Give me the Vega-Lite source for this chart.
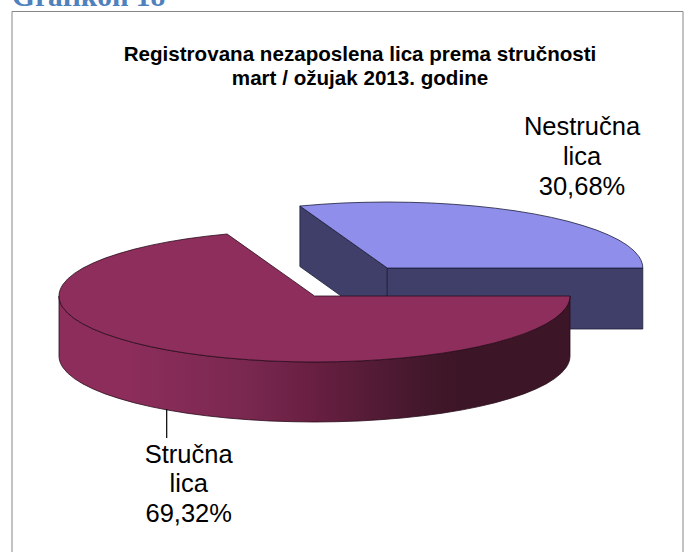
{
  "$schema": "https://vega.github.io/schema/vega-lite/v6.json",
  "width": 688,
  "height": 552,
  "padding": 0,
  "autosize": {"type": "none"},
  "background": "white",
  "config": {"view": {"stroke": null}},
  "datasets": {
    "frame": [{"x": 12, "x2": 683, "y": 11.5, "y2": 560}],
    "blueSideLeft": [
      {"x": 299.9, "y": 206, "y2": 266.5},
      {"x": 387.3, "y": 268, "y2": 329}
    ],
    "blueSideFront": [
      {"x": 387.3, "y": 268, "y2": 329},
      {"x": 642.8, "y": 268, "y2": 329}
    ],
    "blueTop": [
      {"x": 299.9, "y": 206, "y2": 206},
      {"x": 321.2, "y": 204.3, "y2": 221.1},
      {"x": 342.9, "y": 203, "y2": 236.5},
      {"x": 365, "y": 202.3, "y2": 252.2},
      {"x": 387.3, "y": 202, "y2": 268},
      {"x": 409.6, "y": 202.3, "y2": 268},
      {"x": 431.7, "y": 203, "y2": 268},
      {"x": 453.4, "y": 204.3, "y2": 268},
      {"x": 474.7, "y": 206, "y2": 268},
      {"x": 495.3, "y": 208.2, "y2": 268},
      {"x": 515.05, "y": 210.8, "y2": 268},
      {"x": 533.9, "y": 213.9, "y2": 268},
      {"x": 551.5, "y": 217.4, "y2": 268},
      {"x": 568, "y": 221.3, "y2": 268},
      {"x": 583, "y": 225.6, "y2": 268},
      {"x": 596.6, "y": 230.1, "y2": 268},
      {"x": 608.6, "y": 235, "y2": 268},
      {"x": 618.9, "y": 240.1, "y2": 268},
      {"x": 627.4, "y": 245.4, "y2": 268},
      {"x": 634.1, "y": 250.9, "y2": 268},
      {"x": 638.9, "y": 256.5, "y2": 268},
      {"x": 640.6, "y": 259.4, "y2": 268},
      {"x": 641.8, "y": 262.2, "y2": 268},
      {"x": 642.56, "y": 265.1, "y2": 268},
      {"x": 642.8, "y": 268, "y2": 268}
    ],
    "maroonSide": [
      {"x": 59, "y": 296, "y2": 356},
      {"x": 59.24, "y": 298.88, "y2": 358.88},
      {"x": 60, "y": 301.8, "y2": 361.8},
      {"x": 61.2, "y": 304.6, "y2": 364.6},
      {"x": 62.9, "y": 307.5, "y2": 367.5},
      {"x": 67.7, "y": 313.1, "y2": 373.1},
      {"x": 74.4, "y": 318.6, "y2": 378.6},
      {"x": 82.9, "y": 323.9, "y2": 383.9},
      {"x": 93.2, "y": 329, "y2": 389},
      {"x": 105.2, "y": 333.9, "y2": 393.9},
      {"x": 118.8, "y": 338.4, "y2": 398.4},
      {"x": 133.8, "y": 342.7, "y2": 402.7},
      {"x": 150.3, "y": 346.6, "y2": 406.6},
      {"x": 167.9, "y": 350.1, "y2": 410.1},
      {"x": 186.75, "y": 353.2, "y2": 413.2},
      {"x": 206.5, "y": 355.8, "y2": 415.8},
      {"x": 227.1, "y": 358, "y2": 418},
      {"x": 248.4, "y": 359.7, "y2": 419.7},
      {"x": 270.1, "y": 361, "y2": 421},
      {"x": 292.3, "y": 361.7, "y2": 421.7},
      {"x": 314.5, "y": 362, "y2": 422},
      {"x": 336.7, "y": 361.7, "y2": 421.7},
      {"x": 358.9, "y": 361, "y2": 421},
      {"x": 380.6, "y": 359.7, "y2": 419.7},
      {"x": 401.9, "y": 358, "y2": 418},
      {"x": 422.5, "y": 355.8, "y2": 415.8},
      {"x": 442.25, "y": 353.2, "y2": 413.2},
      {"x": 461.1, "y": 350.1, "y2": 410.1},
      {"x": 478.7, "y": 346.6, "y2": 406.6},
      {"x": 495.2, "y": 342.7, "y2": 402.7},
      {"x": 510.2, "y": 338.4, "y2": 398.4},
      {"x": 523.8, "y": 333.9, "y2": 393.9},
      {"x": 535.8, "y": 329, "y2": 389},
      {"x": 546.1, "y": 323.9, "y2": 383.9},
      {"x": 554.6, "y": 318.6, "y2": 378.6},
      {"x": 561.3, "y": 313.1, "y2": 373.1},
      {"x": 566.1, "y": 307.5, "y2": 367.5},
      {"x": 567.8, "y": 304.6, "y2": 364.6},
      {"x": 569, "y": 301.8, "y2": 361.8},
      {"x": 569.76, "y": 298.88, "y2": 358.88},
      {"x": 570, "y": 296, "y2": 356}
    ],
    "maroonTop": [
      {"x": 59, "y": 296, "y2": 296},
      {"x": 59.24, "y": 293.12, "y2": 298.88},
      {"x": 60, "y": 290.2, "y2": 301.8},
      {"x": 61.2, "y": 287.4, "y2": 304.6},
      {"x": 62.9, "y": 284.5, "y2": 307.5},
      {"x": 67.7, "y": 278.9, "y2": 313.1},
      {"x": 74.4, "y": 273.4, "y2": 318.6},
      {"x": 82.9, "y": 268.1, "y2": 323.9},
      {"x": 93.2, "y": 263, "y2": 329},
      {"x": 105.2, "y": 258.1, "y2": 333.9},
      {"x": 118.8, "y": 253.6, "y2": 338.4},
      {"x": 133.8, "y": 249.3, "y2": 342.7},
      {"x": 150.3, "y": 245.4, "y2": 346.6},
      {"x": 167.9, "y": 241.9, "y2": 350.1},
      {"x": 186.75, "y": 238.8, "y2": 353.2},
      {"x": 206.5, "y": 236.2, "y2": 355.8},
      {"x": 227.1, "y": 234, "y2": 358},
      {"x": 248.4, "y": 249.1, "y2": 359.7},
      {"x": 270.1, "y": 264.5, "y2": 361},
      {"x": 292.3, "y": 280.2, "y2": 361.7},
      {"x": 314.5, "y": 296, "y2": 362},
      {"x": 336.7, "y": 296, "y2": 361.7},
      {"x": 358.9, "y": 296, "y2": 361},
      {"x": 380.6, "y": 296, "y2": 359.7},
      {"x": 401.9, "y": 296, "y2": 358},
      {"x": 422.5, "y": 296, "y2": 355.8},
      {"x": 442.25, "y": 296, "y2": 353.2},
      {"x": 461.1, "y": 296, "y2": 350.1},
      {"x": 478.7, "y": 296, "y2": 346.6},
      {"x": 495.2, "y": 296, "y2": 342.7},
      {"x": 510.2, "y": 296, "y2": 338.4},
      {"x": 523.8, "y": 296, "y2": 333.9},
      {"x": 535.8, "y": 296, "y2": 329},
      {"x": 546.1, "y": 296, "y2": 323.9},
      {"x": 554.6, "y": 296, "y2": 318.6},
      {"x": 561.3, "y": 296, "y2": 313.1},
      {"x": 566.1, "y": 296, "y2": 307.5},
      {"x": 567.8, "y": 296, "y2": 304.6},
      {"x": 569, "y": 296, "y2": 301.8},
      {"x": 569.76, "y": 296, "y2": 298.88},
      {"x": 570, "y": 296, "y2": 296}
    ],
    "leader": [{"x": 166.7, "y": 409, "y2": 438}],
    "sliceLabels": [
      {"slice": "Nestručna lica", "share": 30.68, "label": "Nestručna\nlica\n30,68%", "x": 582, "y": 135},
      {"slice": "Stručna lica", "share": 69.32, "label": "Stručna\nlica\n69,32%", "x": 188.7, "y": 462.7}
    ],
    "titles": [
      {"label": "Registrovana nezaposlena lica prema stručnosti", "x": 360, "y": 61},
      {"label": "mart / ožujak  2013. godine", "x": 360, "y": 85}
    ],
    "heading": [{"label": "Grafikon 18", "x": 12, "y": 6}]
  },
  "encoding": {
    "x": {"field": "x", "type": "quantitative", "axis": null, "scale": {"domain": [0, 688], "nice": false, "zero": false}},
    "y": {"field": "y", "type": "quantitative", "axis": null, "scale": {"domain": [552, 0], "nice": false, "zero": false}}
  },
  "layer": [
    {
      "data": {"name": "heading"},
      "mark": {"type": "text", "align": "left", "baseline": "alphabetic", "font": "Liberation Serif", "fontWeight": "bold", "fontSize": 29.5, "fill": "#4F81BD"},
      "encoding": {"text": {"field": "label"}}
    },
    {
      "data": {"name": "frame"},
      "mark": {"type": "rect", "fill": "white", "stroke": "#868686", "strokeWidth": 1},
      "encoding": {
        "x2": {"field": "x2"},
        "y2": {"field": "y2"}
      }
    },
    {
      "data": {"name": "blueSideLeft"},
      "mark": {"type": "area", "fill": "#3F3F69", "fillOpacity": 1, "stroke": "#1d1d3a", "strokeWidth": 0.8},
      "encoding": {"y2": {"field": "y2"}}
    },
    {
      "data": {"name": "blueSideFront"},
      "mark": {"type": "area", "fill": "#3F3F69", "fillOpacity": 1, "stroke": "#1d1d3a", "strokeWidth": 0.8},
      "encoding": {"y2": {"field": "y2"}}
    },
    {
      "data": {"name": "blueTop"},
      "mark": {"type": "area", "fill": "#8F8FEB", "fillOpacity": 1, "stroke": "#1d1d3a", "strokeWidth": 0.8},
      "encoding": {"y2": {"field": "y2"}}
    },
    {
      "data": {"name": "maroonSide"},
      "mark": {
        "type": "area",
        "fillOpacity": 1,
        "stroke": "#2a0d1c",
        "strokeWidth": 0.8,
        "fill": {
          "gradient": "linear",
          "x1": 0, "x2": 1, "y1": 0, "y2": 0,
          "stops": [
            {"offset": 0, "color": "#8C2D5B"},
            {"offset": 0.14, "color": "#8C2D5B"},
            {"offset": 0.36, "color": "#7A2850"},
            {"offset": 0.5, "color": "#681F41"},
            {"offset": 0.7, "color": "#45182D"},
            {"offset": 0.78, "color": "#3C1526"},
            {"offset": 1, "color": "#3C1526"}
          ]
        }
      },
      "encoding": {"y2": {"field": "y2"}}
    },
    {
      "data": {"name": "maroonTop"},
      "mark": {"type": "area", "fill": "#8E2E5C", "fillOpacity": 1, "stroke": "#2a0d1c", "strokeWidth": 0.8},
      "encoding": {"y2": {"field": "y2"}}
    },
    {
      "data": {"name": "leader"},
      "mark": {"type": "rule", "stroke": "#000000", "strokeWidth": 1.2},
      "encoding": {"y2": {"field": "y2"}}
    },
    {
      "data": {"name": "sliceLabels"},
      "mark": {"type": "text", "align": "center", "baseline": "alphabetic", "font": "Liberation Sans", "fontSize": 25.5, "lineBreak": "\n", "lineHeight": 29.8, "fill": "#000000"},
      "encoding": {"text": {"field": "label"}}
    },
    {
      "data": {"name": "titles"},
      "mark": {"type": "text", "align": "center", "baseline": "alphabetic", "font": "Liberation Sans", "fontWeight": "bold", "fontSize": 20.6, "fill": "#000000"},
      "encoding": {"text": {"field": "label"}}
    }
  ]
}
